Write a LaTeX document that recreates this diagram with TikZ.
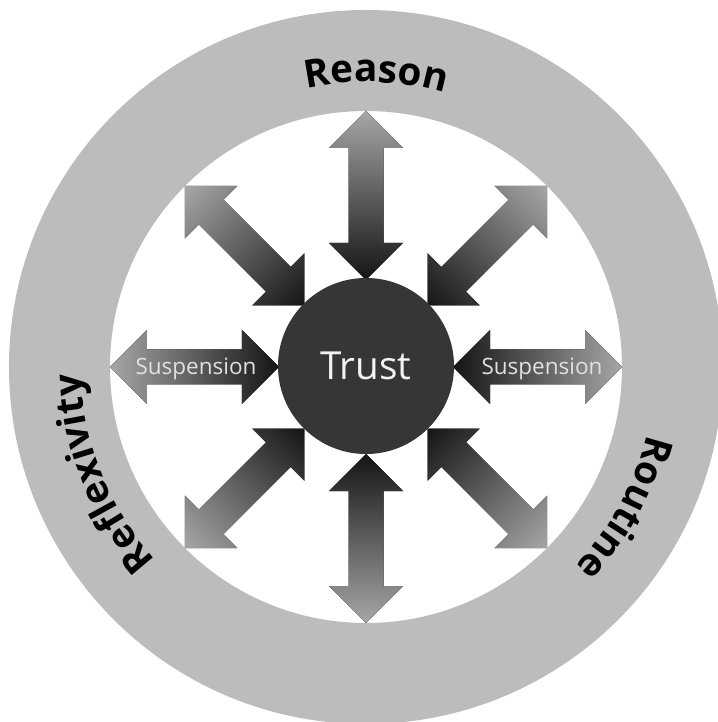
\documentclass[tikz,border=0pt]{standalone}
\usepackage{fontspec}
\setmainfont{Open Sans}
\usetikzlibrary{decorations.text}
\definecolor{ringgray}{HTML}{BCBCBC}
\definecolor{discgray}{HTML}{363638}
\definecolor{tipgray}{HTML}{A6A6A6}

\begin{document}
\begin{tikzpicture}[x=0.025cm,y=0.025cm,
  dblarrow/.style={left color=black!92,right color=tipgray},
  ringword/.style={decorate,decoration={text along path,text align=center,
    text={|\bfseries\fontsize{27.5}{28}\selectfont|#1}}}]
\useasboundingbox (-366,-355) rectangle (351,367);
\fill [white] (-366,-355) rectangle (351,367);
\fill [ringgray,even odd rule] (0,0) circle[radius=357] circle[radius=256];
\path [ringword=Reason] (148:285) arc[start angle=148,end angle=28,radius=285];
\path [ringword=Reflexivity] (262:285) arc[start angle=262,end angle=142,radius=285];
\path [ringword=Routine] (31.5:289) arc[start angle=31.5,end angle=-88.5,radius=289];
\foreach \a in {0,45,...,315}
  \fill [dblarrow,transform canvas={rotate=\a}] (87,0) -- (124,37) -- (124,17.5)
    -- (219,17.5) -- (219,37) -- (256,0) -- (219,-37) -- (219,-17.5)
    -- (124,-17.5) -- (124,-37) -- cycle;
\node [circle,fill=discgray,minimum size=4.4cm,inner sep=0pt,text=white!95!black,
  font=\fontsize{27.5}{28}\selectfont] (trust) at (0,1) {Trust};
\node [anchor=base,text=black!12,font=\fontsize{16}{16}\selectfont] (suspL) at (-170,-8) {Suspension};
\node [anchor=base,text=black!12,font=\fontsize{16}{16}\selectfont] (suspR) at (176,-8) {Suspension};
\end{tikzpicture}
\end{document}
